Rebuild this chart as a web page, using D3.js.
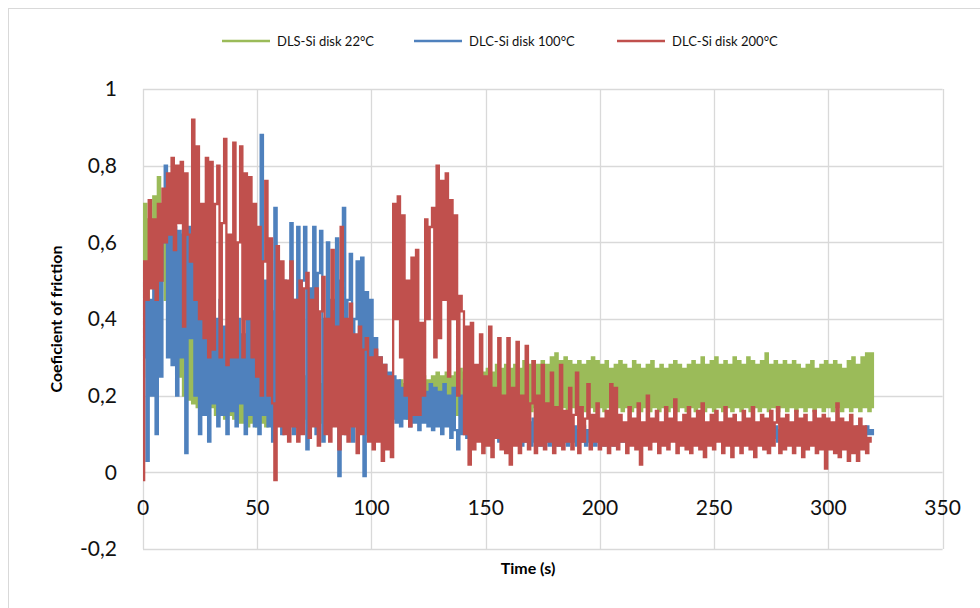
<!DOCTYPE html>
<html>
<head>
<meta charset="utf-8">
<script src="https://cdn.jsdelivr.net/npm/d3@7"></script>
<style>
  body { margin: 0; background: #fff; }
  text { font-family: Lato, "Open Sans", sans-serif; }
</style>
</head>
<body>
<div id="chart"></div>
<script>
// legend / series names
var seriesNames = ["DLS-Si disk 22°C", "DLC-Si disk 100°C", "DLC-Si disk 200°C"];
var seriesColors = ["#9bbb59", "#4f81bd", "#c0504d"];

// axis ticks
var xTicks = [0, 50, 100, 150, 200, 250, 300, 350];
var yTicks = [-0.2, 0, 0.2, 0.4, 0.6, 0.8, 1];

// sampling interval of the readings below (s)
var sampleStep = 1;

// coefficient of friction, one reading per second
var cof22 = [
  0.25,0.70,0.45,0.66,0.50,0.72,0.55,0.77,0.50,0.68,
  0.45,0.70,0.40,0.62,0.35,0.55,0.25,0.47,0.20,0.42,
  0.19,0.40,0.18,0.45,0.17,0.41,0.18,0.50,0.16,0.42,
  0.17,0.38,0.15,0.36,0.16,0.35,0.14,0.33,0.15,0.34,
  0.14,0.30,0.13,0.31,0.13,0.29,0.12,0.30,0.13,0.27,
  0.12,0.28,0.13,0.26,0.12,0.27,0.14,0.25,0.13,0.26,
  0.14,0.25,0.13,0.26,0.14,0.24,0.13,0.25,0.14,0.24,
  0.13,0.25,0.14,0.23,0.13,0.24,0.14,0.25,0.13,0.23,
  0.14,0.24,0.13,0.23,0.14,0.24,0.13,0.22,0.14,0.23,
  0.13,0.24,0.14,0.23,0.13,0.22,0.14,0.23,0.13,0.24,
  0.14,0.23,0.15,0.22,0.14,0.23,0.15,0.24,0.14,0.23,
  0.15,0.22,0.14,0.24,0.15,0.23,0.14,0.24,0.15,0.23,
  0.14,0.24,0.15,0.25,0.14,0.24,0.15,0.25,0.14,0.26,
  0.15,0.25,0.14,0.26,0.15,0.25,0.14,0.26,0.15,0.27,
  0.14,0.26,0.15,0.27,0.14,0.26,0.15,0.27,0.16,0.26,
  0.15,0.27,0.16,0.26,0.15,0.28,0.16,0.27,0.15,0.28,
  0.16,0.27,0.15,0.28,0.16,0.27,0.16,0.29,0.15,0.28,
  0.16,0.29,0.17,0.28,0.16,0.29,0.17,0.28,0.16,0.30,
  0.17,0.31,0.16,0.29,0.17,0.30,0.16,0.29,0.17,0.28,
  0.16,0.29,0.17,0.28,0.16,0.29,0.17,0.30,0.16,0.29,
  0.17,0.28,0.16,0.29,0.17,0.27,0.16,0.28,0.17,0.29,
  0.16,0.28,0.17,0.27,0.16,0.29,0.17,0.28,0.16,0.27,
  0.17,0.28,0.16,0.29,0.17,0.27,0.16,0.28,0.17,0.27,
  0.16,0.28,0.17,0.29,0.16,0.28,0.17,0.27,0.16,0.28,
  0.17,0.29,0.16,0.28,0.17,0.30,0.16,0.28,0.17,0.29,
  0.16,0.30,0.17,0.28,0.16,0.29,0.17,0.28,0.16,0.30,
  0.17,0.29,0.16,0.28,0.17,0.30,0.16,0.29,0.17,0.28,
  0.16,0.29,0.17,0.31,0.16,0.28,0.17,0.29,0.16,0.28,
  0.17,0.29,0.16,0.28,0.17,0.29,0.16,0.28,0.17,0.27,
  0.16,0.28,0.17,0.29,0.16,0.27,0.17,0.28,0.16,0.29,
  0.17,0.28,0.16,0.29,0.17,0.28,0.16,0.27,0.17,0.29,
  0.16,0.30,0.17,0.28,0.16,0.30,0.17,0.31,0.16,0.31,
  0.17
];

var cof100 = [
  0.30,0.50,0.03,0.45,0.20,0.55,0.10,0.50,0.25,0.60,
  0.80,0.30,0.63,0.28,0.64,0.20,0.63,0.30,0.62,0.05,
  0.64,0.35,0.60,0.20,0.50,0.10,0.48,0.15,0.45,0.08,
  0.42,0.18,0.40,0.12,0.45,0.15,0.38,0.10,0.42,0.16,
  0.35,0.12,0.40,0.18,0.36,0.10,0.55,0.15,0.45,0.12,
  0.58,0.10,0.88,0.15,0.50,0.12,0.42,0.08,0.69,0.15,
  0.45,0.10,0.50,0.12,0.40,0.65,0.10,0.45,0.64,0.12,
  0.50,0.64,0.06,0.48,0.15,0.64,0.10,0.52,0.63,0.08,
  0.40,0.60,0.12,0.45,0.15,0.61,-0.01,0.50,0.69,0.10,
  0.45,0.57,0.08,0.40,0.55,0.12,0.56,-0.01,0.47,0.10,
  0.45,0.12,0.35,0.15,0.30,0.13,0.28,0.12,0.26,0.14,
  0.25,0.13,0.24,0.12,0.22,0.14,0.24,0.12,0.23,0.13,
  0.22,0.11,0.24,0.13,0.21,0.12,0.23,0.11,0.22,0.12,
  0.21,0.10,0.23,0.12,0.20,0.09,0.22,0.11,0.06,0.20,
  0.10,0.24,0.09,0.19,0.08,0.18,0.10,0.20,0.09,0.17,
  0.08,0.18,0.10,0.16,0.09,0.17,0.08,0.15,0.09,0.16,
  0.08,0.15,0.09,0.14,0.08,0.15,0.07,0.14,0.08,0.13,
  0.07,0.14,0.08,0.13,0.07,0.12,0.08,0.13,0.07,0.12,
  0.08,0.12,0.07,0.13,0.08,0.12,0.07,0.11,0.08,0.12,
  0.07,0.11,0.08,0.12,0.07,0.11,0.08,0.12,0.07,0.11,
  0.08,0.12,0.07,0.11,0.08,0.12,0.07,0.11,0.08,0.12,
  0.08,0.11,0.09,0.12,0.08,0.11,0.09,0.12,0.08,0.11,
  0.09,0.12,0.08,0.11,0.09,0.12,0.08,0.11,0.09,0.12,
  0.08,0.11,0.09,0.12,0.08,0.11,0.09,0.12,0.08,0.11,
  0.09,0.12,0.08,0.11,0.09,0.12,0.08,0.11,0.09,0.12,
  0.08,0.11,0.09,0.12,0.08,0.11,0.09,0.12,0.08,0.11,
  0.09,0.12,0.08,0.11,0.09,0.12,0.08,0.11,0.09,0.12,
  0.08,0.11,0.09,0.12,0.08,0.11,0.09,0.12,0.08,0.11,
  0.09,0.12,0.08,0.11,0.09,0.12,0.08,0.11,0.09,0.12,
  0.08,0.11,0.09,0.12,0.08,0.11,0.09,0.12,0.08,0.11,
  0.09,0.12,0.08,0.11,0.09,0.12,0.08,0.11,0.09,0.12,
  0.08,0.11,0.09,0.12,0.08,0.11,0.09,0.12,0.10,0.11,
  0.10
];

var cof200 = [
  -0.02,0.55,0.45,0.71,0.48,0.66,0.45,0.70,0.50,0.74,
  0.60,0.78,0.62,0.82,0.58,0.80,0.65,0.81,0.38,0.78,
  0.62,0.55,0.92,0.45,0.85,0.40,0.70,0.35,0.82,0.30,
  0.81,0.32,0.70,0.80,0.30,0.65,0.87,0.28,0.62,0.30,
  0.86,0.30,0.60,0.85,0.30,0.78,0.40,0.77,0.30,0.70,
  0.25,0.64,0.20,0.55,0.76,0.20,0.61,0.18,-0.02,0.59,
  0.12,0.55,0.10,0.50,0.08,0.55,0.12,0.45,0.08,0.50,
  0.10,0.48,0.52,0.09,0.45,0.12,0.48,0.07,0.42,0.51,
  0.10,0.40,0.08,0.58,0.12,0.38,0.06,0.64,0.10,0.40,
  0.08,0.44,0.12,0.36,0.05,0.38,0.10,0.32,0.35,0.08,
  0.30,0.06,0.32,0.08,0.30,0.03,0.28,0.06,0.25,0.04,
  0.70,0.40,0.72,0.30,0.67,0.20,0.50,0.12,0.56,0.15,
  0.58,0.15,0.39,0.20,0.66,0.40,0.64,0.69,0.30,0.80,
  0.35,0.76,0.45,0.78,0.25,0.71,0.40,0.67,0.20,0.46,
  0.42,0.10,0.38,0.02,0.39,0.06,0.28,0.08,0.36,0.05,
  0.25,0.07,0.38,0.04,0.22,0.09,0.35,0.06,0.20,0.05,
  0.35,0.02,0.22,0.07,0.34,0.05,0.20,0.08,0.33,0.06,
  0.18,0.29,0.05,0.20,0.07,0.28,0.06,0.18,0.08,0.26,
  0.05,0.17,0.07,0.28,0.06,0.16,0.08,0.22,0.06,0.15,
  0.26,0.05,0.17,0.08,0.14,0.23,0.06,0.15,0.08,0.18,
  0.06,0.14,0.07,0.16,0.05,0.23,0.07,0.22,0.06,0.15,
  0.08,0.13,0.05,0.17,0.07,0.14,0.06,0.18,0.02,0.13,
  0.07,0.20,0.06,0.14,0.08,0.16,0.05,0.13,0.07,0.17,
  0.06,0.14,0.08,0.19,0.05,0.13,0.07,0.15,0.06,0.17,
  0.05,0.14,0.07,0.16,0.06,0.18,0.04,0.13,0.07,0.15,
  0.06,0.16,0.08,0.13,0.05,0.17,0.07,0.14,0.04,0.15,
  0.07,0.13,0.05,0.16,0.07,0.14,0.06,0.17,0.04,0.13,
  0.07,0.15,0.06,0.14,0.05,0.16,0.07,0.13,0.17,0.05,
  0.14,0.06,0.15,0.07,0.13,0.05,0.16,0.07,0.14,0.04,
  0.15,0.06,0.13,0.07,0.16,0.05,0.14,0.06,0.15,0.01,
  0.14,0.06,0.13,0.05,0.18,0.04,0.14,0.06,0.13,0.03,
  0.15,0.05,0.12,0.03,0.14,0.06,0.12,0.05,0.09,0.08
];

var width = 980, height = 608;

var svg = d3.select('#chart')
    .append('svg')
    .attr('width', width)
    .attr('height', height);

// chart area border
svg.append('rect')
    .attr('x', 8.5).attr('y', 8.5)
    .attr('width', 990).attr('height', 620)
    .attr('fill', '#fff')
    .attr('stroke', '#d9d9d9')
    .attr('stroke-width', 1);

var x = d3.scaleLinear().domain([0, 350]).range([143, 942.6]);
var y = d3.scaleLinear().domain([-0.2, 1]).range([549, 89]);

// gridlines
svg.append('g')
    .selectAll('line')
    .data(yTicks)
    .enter()
    .append('line')
    .attr('x1', x(0)).attr('x2', x(350))
    .attr('y1', function(d) { return Math.round(y(d)) + 0.5 })
    .attr('y2', function(d) { return Math.round(y(d)) + 0.5 })
    .attr('stroke', '#d9d9d9')
    .attr('stroke-width', 1.3);

svg.append('g')
    .selectAll('line')
    .data(xTicks)
    .enter()
    .append('line')
    .attr('y1', y(1)).attr('y2', y(-0.2))
    .attr('x1', function(d) { return Math.round(x(d)) + 0.5 })
    .attr('x2', function(d) { return Math.round(x(d)) + 0.5 })
    .attr('stroke', '#d9d9d9')
    .attr('stroke-width', 1.3);

// y tick labels (decimal comma, plain hyphen)
svg.append('g')
    .selectAll('text')
    .data(yTicks)
    .enter()
    .append('text')
    .attr('x', 117)
    .attr('y', function(d) { return y(d) })
    .attr('dy', '0.35em')
    .attr('text-anchor', 'end')
    .style('font-size', '21px')
    .style('fill', '#111')
    .text(function(d) { return String(+d.toFixed(1)).replace('.', ',') });

// x tick labels, next to the axis at y = 0
svg.append('g')
    .selectAll('text')
    .data(xTicks)
    .enter()
    .append('text')
    .attr('x', function(d) { return x(d) })
    .attr('y', y(0) + 35)
    .attr('dy', '0.35em')
    .attr('text-anchor', 'middle')
    .style('font-size', '21px')
    .style('fill', '#111')
    .text(function(d) { return d });

// series lines - stepped so the dense readings fill like the original trace
var allSeries = [cof22, cof100, cof200];
var line = d3.line()
    .curve(d3.curveStep)
    .x(function(d, i) { return x(i * sampleStep) })
    .y(function(d) { return y(d) });

svg.append('g')
    .selectAll('path')
    .data(allSeries)
    .enter()
    .append('path')
    .attr('d', function(d) { return line(d) })
    .attr('fill', 'none')
    .attr('stroke', function(d, i) { return seriesColors[i] })
    .attr('stroke-width', 2.3)
    .attr('stroke-linejoin', 'miter');

// axis titles
svg.append('text')
    .attr('x', 528).attr('y', 568)
    .attr('dy', '0.35em')
    .attr('text-anchor', 'middle')
    .style('font-size', '16px')
    .style('font-weight', 'bold')
    .text('Time (s)');

svg.append('text')
    .attr('transform', 'translate(56,319) rotate(-90)')
    .attr('dy', '0.35em')
    .attr('text-anchor', 'middle')
    .style('font-size', '16px')
    .style('font-weight', 'bold')
    .text('Coeficient of friction');

// legend
var legendX = [222, 414, 617];
var legend = svg.append('g')
    .selectAll('g')
    .data(seriesNames)
    .enter()
    .append('g')
    .attr('transform', function(d, i) { return `translate(${legendX[i]}, 41)` });

legend.append('line')
    .attr('x1', 0).attr('x2', 48)
    .attr('stroke', function(d, i) { return seriesColors[i] })
    .attr('stroke-width', 2.5);

legend.append('text')
    .attr('x', 55)
    .attr('dy', '0.35em')
    .style('font-size', '13px')
    .style('fill', '#111')
    .text(function(d) { return d });
</script>
</body>
</html>
